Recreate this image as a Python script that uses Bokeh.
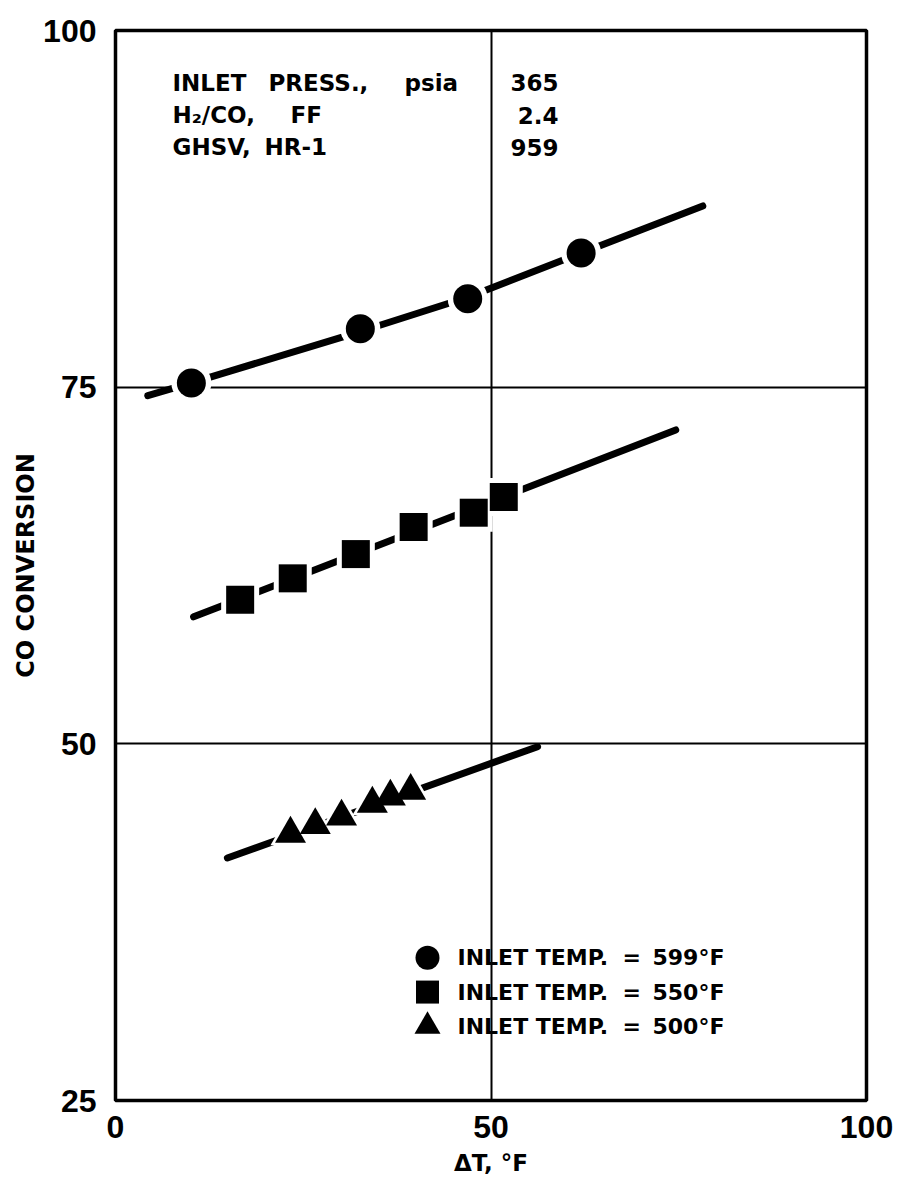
from bokeh.plotting import figure
from bokeh.models import FixedTicker, Label, Range1d
from bokeh.embed import file_html
from bokeh.resources import INLINE

# ---- data ----
circ_x = [10.1, 32.6, 46.9, 62.0]
circ_y = [75.3, 79.1, 81.2, 84.4]
circ_fit_x = [4.3, 10.1, 32.6, 46.9, 62.0, 78.2]
circ_fit_y = [74.4, 75.3, 78.9, 81.3, 84.4, 87.7]

sq_x = [16.6, 23.6, 32.0, 39.7, 47.7, 51.7]
sq_y = [60.1, 61.6, 63.3, 65.2, 66.2, 67.3]
sq_fit_x = [10.4, 74.6]
sq_fit_y = [58.9, 72.0]

tri_x = [23.3, 26.6, 30.1, 34.2, 36.6, 39.3]
tri_y = [43.7, 44.3, 44.9, 45.8, 46.3, 46.7]
tri_fit_x = [14.9, 56.2]
tri_fit_y = [42.0, 49.8]

x_ticks = [0, 50, 100]
y_ticks = [25, 50, 75, 100]
legend_temps = ["599°F", "550°F", "500°F"]

TICK_FONT = "Liberation Sans"
TEXT_FONT = "DejaVu Sans"

p = figure(width=898, height=1182, x_range=Range1d(0, 100), y_range=Range1d(25, 100),
           output_backend="svg", toolbar_location=None,
           min_border_left=115, min_border_right=32, min_border_top=30, min_border_bottom=82)
p.background_fill_color = "white"
p.border_fill_color = "white"
p.outline_line_color = "black"
p.outline_line_width = 3.5

for ax in (p.xaxis, p.yaxis):
    ax.axis_line_color = None
    ax.major_tick_line_color = None
    ax.minor_tick_line_color = None
    ax.major_label_text_font = TICK_FONT
    ax.major_label_text_font_style = "bold"
    ax.major_label_text_font_size = "32px"
    ax.major_label_text_color = "black"
    ax.axis_label_text_font = TEXT_FONT
    ax.axis_label_text_font_style = "bold"
    ax.axis_label_text_color = "black"

p.xaxis.ticker = FixedTicker(ticks=x_ticks)
p.yaxis.ticker = FixedTicker(ticks=y_ticks)
p.xaxis.major_label_standoff = 9
p.yaxis.major_label_standoff = 13
p.xaxis.axis_label = "ΔT, °F"
p.yaxis.axis_label = "CO CONVERSION"
p.xaxis.axis_label_text_font_size = "23px"
p.yaxis.axis_label_text_font_size = "24px"
p.xaxis.axis_label_standoff = 9
p.yaxis.axis_label_standoff = 0

p.xgrid.ticker = FixedTicker(ticks=[50])
p.ygrid.ticker = FixedTicker(ticks=[50, 75])
for g in (p.xgrid, p.ygrid):
    g.grid_line_color = "black"
    g.grid_line_width = 2
    g.grid_line_alpha = 1.0

# fitted lines
for fx, fy in ((circ_fit_x, circ_fit_y), (sq_fit_x, sq_fit_y), (tri_fit_x, tri_fit_y)):
    p.line(fx, fy, line_color="black", line_width=7, line_cap="round")

# white halos then markers
p.scatter(circ_x, circ_y, marker="circle", size=40, fill_color="white", line_color=None)
p.scatter(circ_x, circ_y, marker="circle", size=29, fill_color="black", line_color=None)
p.scatter(sq_x, sq_y, marker="square", size=38, fill_color="white", line_color=None)
p.scatter(sq_x, sq_y, marker="square", size=28, fill_color="black", line_color=None)
p.scatter(tri_x, tri_y, marker="triangle", size=40, fill_color="white", line_color=None)
p.scatter(tri_x, tri_y, marker="triangle", size=31, fill_color="black", line_color=None)

def px2x(px):
    return (px - 115) / 7.51

# legend (custom)
leg_marker_x = px2x(427)
leg_rows = [35.0, 32.6, 30.2]
for marker, yy, temp, sz in zip(["circle", "square", "triangle"], leg_rows, legend_temps, [24, 23, 26]):
    p.scatter([leg_marker_x], [yy], marker=marker, size=sz, fill_color="black", line_color=None)
    for txt, px in (("INLET TEMP.", 457), ("=", 622), (temp, 652)):
        p.add_layout(Label(x=px2x(px), y=yy, text=txt, text_font=TEXT_FONT, text_font_style="bold",
                           text_font_size="22px", text_baseline="middle", text_color="black"))

# conditions box text
rows = [96.35, 94.05, 91.8]
words = [
    [("INLET", 172), ("PRESS.,", 268), ("psia", 404)],
    [("H₂/CO,", 172), ("FF", 290)],
    [("GHSV,", 172), ("HR-1", 264)],
]
values = ["365", "2.4", "959"]
for r, ws, val in zip(rows, words, values):
    for w, px in ws:
        p.add_layout(Label(x=px2x(px), y=r, text=w, text_font=TEXT_FONT, text_font_style="bold",
                           text_font_size="23px", text_baseline="middle", text_color="black"))
    p.add_layout(Label(x=px2x(558), y=r, text=val, text_font=TEXT_FONT, text_font_style="bold",
                       text_font_size="23px", text_baseline="middle", text_align="right",
                       text_color="black"))

open("out.html", "w").write(file_html(p, INLINE))
